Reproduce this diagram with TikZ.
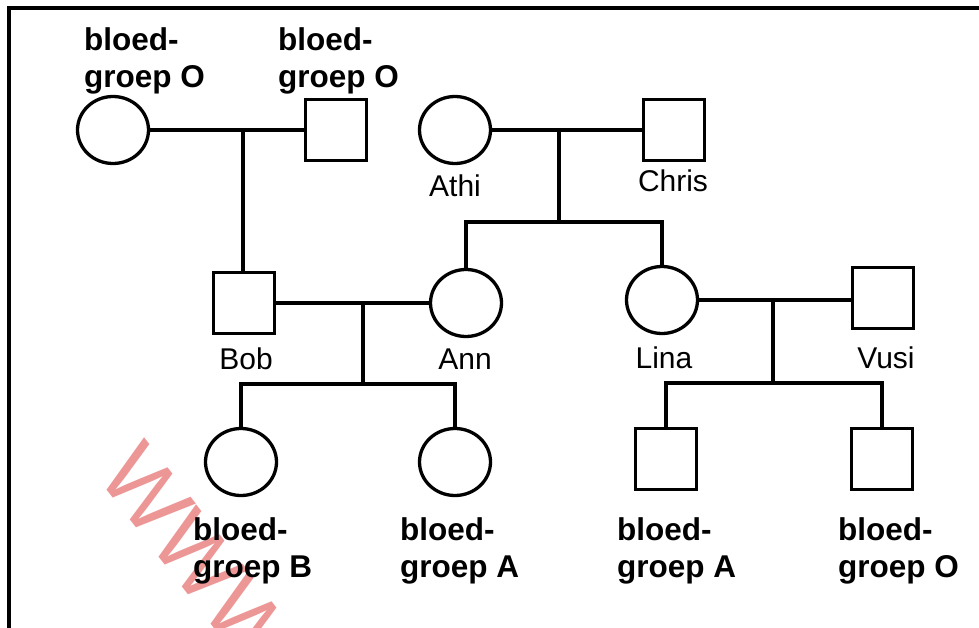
\documentclass[tikz,border=0pt]{standalone}
\usepackage{fontspec}
\setmainfont{Liberation Sans}
\usetikzlibrary{shapes.geometric}

\tikzset{
    fem/.style={draw, ellipse, line width=3.3pt, minimum width=71pt, minimum height=67pt, inner sep=0pt},
    mal/.style={draw, rectangle, line width=3.3pt, minimum size=61pt, inner sep=0pt},
    pname/.style={anchor=base, inner sep=0pt, font=\fontsize{30}{36}\selectfont},
    blood/.style={anchor=north west, inner sep=0pt, align=left, font=\fontsize{31.5}{37}\selectfont\bfseries},
    link/.style={line width=3.3pt}
}

\begin{document}
\begin{tikzpicture}[x=1pt, y=-1pt]
            \useasboundingbox (0, 0) rectangle (979, 628);
            \clip (0, 0) rectangle (979, 628);

            % frame
            \draw[line width=3.3pt] (9, 640) -- (9, 8) -- (990, 8);

            % first generation
            \node[fem] (grannyO) at (113, 130) {};
            \node[mal] (grandpaO) at (336, 130) {};
            \node[fem] (athi) at (455, 130) {};
            \node[mal] (chris) at (674, 130) {};

            % second generation
            \node[mal] (bob) at (244, 303) {};
            \node[fem] (ann) at (466, 303) {};
            \node[fem] (lina) at (662, 300) {};
            \node[mal] (vusi) at (883, 298) {};

            % third generation
            \node[fem] (kidB) at (241, 462) {};
            \node[fem] (kidA) at (455, 462) {};
            \node[mal] (kidLA) at (666, 459) {};
            \node[mal] (kidO) at (882, 459) {};

            % couples
            \draw[link] (grannyO) -- (grandpaO);
            \draw[link] (athi) -- (chris);
            \draw[link] (bob) -- (ann);
            \draw[link] (lina.east) -- (vusi.west |- lina.east);

            % descent
            \coordinate (mOO) at (243, 130);
            \draw[link] (mOO) -- (bob.north -| mOO);

            \coordinate (mAC) at (559, 130);
            \coordinate (sAC) at (559, 222);
            \draw[link] (mAC) -- (sAC);
            \draw[link] (ann.north) |- (sAC) -| (lina.north);

            \coordinate (mBA) at (363, 303);
            \coordinate (sBA) at (363, 384);
            \draw[link] (mBA) -- (sBA);
            \draw[link] (kidB.north) |- (sBA) -| (kidA.north);

            \coordinate (mLV) at (773, 300);
            \coordinate (sLV) at (773, 383);
            \draw[link] (mLV) -- (sLV);
            \draw[link] (kidLA.north) |- (sLV) -| (kidO.north);

            % names
            \node[pname] (nAthi) at (455, 197) {Athi};
            \node[pname] (nChris) at (673, 192) {Chris};
            \node[pname] (nBob) at (246, 369) {Bob};
            \node[pname] (nAnn) at (465, 369) {Ann};
            \node[pname] (nLina) at (664, 368) {Lina};
            \node[pname] (nVusi) at (886, 368) {Vusi};

            % watermark
            \node[rotate=-52, inner sep=0pt, text={rgb,255:red,236;green,150;blue,150},
                font=\fontsize{90}{90}\selectfont] (mark) at (198, 557) {WWW};

            % blood groups
            \node[blood] (bgGranny) at (84, 27) {bloed-\\groep O};
            \node[blood] (bgGrandpa) at (278, 27) {bloed-\\groep O};
            \node[blood] (bgKidB) at (193, 517) {bloed-\\groep B};
            \node[blood] (bgKidA) at (400, 517) {bloed-\\groep A};
            \node[blood] (bgKidLA) at (617, 517) {bloed-\\groep A};
            \node[blood] (bgKidO) at (838, 517) {bloed-\\groep O};
        \end{tikzpicture}
\end{document}
